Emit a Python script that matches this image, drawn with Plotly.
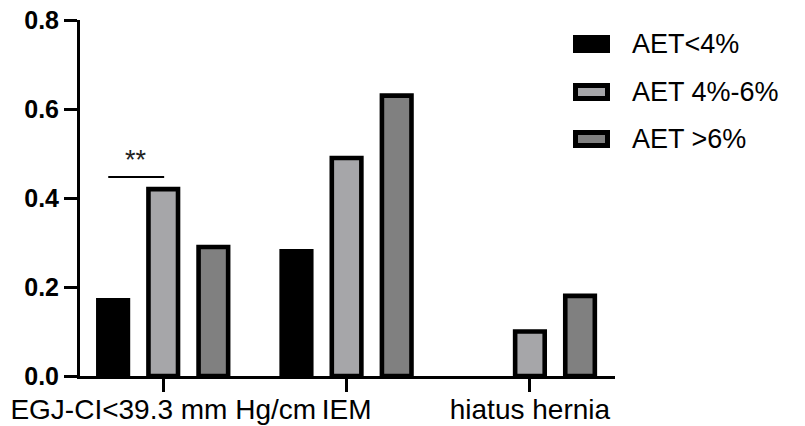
import plotly.graph_objects as go

# ---- data ----
categories = ["EGJ-CI<39.3 mm Hg/cm", "IEM", "hiatus hernia"]
series_names = ["AET<4%", "AET 4%-6%", "AET >6%"]
aet_lt4 = [0.17, 0.28, 0.0]
aet_4_6 = [0.42, 0.49, 0.10]
aet_gt6 = [0.29, 0.63, 0.18]
y_ticks = [0.0, 0.2, 0.4, 0.6, 0.8]
y_tick_labels = ["0.0", "0.2", "0.4", "0.6", "0.8"]
sig_label = "**"

series_values = [aet_lt4, aet_4_6, aet_gt6]
fill_colors = ["#000000", "#a6a6a9", "#808080"]

FONT = "Arial, Liberation Sans, sans-serif"
W, H = 805, 426
ML, MR, MT, MB = 80, W - 615, 20, 426 - 376
PW, PH = W - ML - MR, H - MT - MB

x_pos = list(range(len(categories)))

fig = go.Figure()
for name, vals, col in zip(series_names, series_values, fill_colors):
    fig.add_trace(go.Bar(
        x=x_pos, y=vals, name=name,
        marker=dict(color=col, line=dict(color="#000000",
                                         width=[4.6 if v > 0 else 0 for v in vals])),
        showlegend=False,
    ))

def px_x(px):
    return (px - ML) / PW

def px_y(py):
    return (H - MB - py) / PH

shapes = []
annotations = []
# custom legend (swatch + text)
row_centers = [44, 92, 139]
for i, (name, col) in enumerate(zip(series_names, fill_colors)):
    cy = row_centers[i]
    lw = 5
    shapes.append(dict(
        type="rect", xref="paper", yref="paper",
        x0=px_x(573 + lw / 2), x1=px_x(610 - lw / 2),
        y0=px_y(cy - 9 + lw / 2), y1=px_y(cy + 9 - lw / 2),
        fillcolor=col, line=dict(color="#000000", width=lw),
    ))
    annotations.append(dict(
        x=px_x(630), y=px_y(cy), xref="paper", yref="paper",
        text=name, showarrow=False, xanchor="left", yanchor="middle",
        font=dict(family=FONT, size=27, color="#000000"),
    ))

# significance bracket between first two bars of first group
shapes.append(dict(
    type="line", xref="x", yref="y",
    x0=-0.30, x1=0.005, y0=0.447, y1=0.447,
    line=dict(color="#000000", width=2),
))
annotations.append(dict(
    x=-0.15, y=px_y(160) * 0.8, xref="x", yref="y", text=sig_label, showarrow=False,
    xanchor="center", yanchor="middle",
    font=dict(family=FONT, size=27, color="#222222"),
))

fig.update_layout(
    width=W, height=H,
    margin=dict(l=ML, r=MR, t=MT, b=MB, pad=0),
    paper_bgcolor="white", plot_bgcolor="white",
    barmode="group", bargap=0.18, bargroupgap=0.41,
    shapes=shapes, annotations=annotations,
    font=dict(family=FONT, color="#000000"),
)
fig.update_xaxes(
    range=[-0.454, 2.464], tickmode="array", tickvals=x_pos, ticktext=categories,
    tickangle=0, showgrid=False, zeroline=False, automargin=False,
    showline=True, linecolor="#000000", linewidth=3,
    ticks="outside", ticklen=13, tickwidth=3, tickcolor="#000000",
    ticklabelstandoff=-7,
    tickfont=dict(family=FONT, size=28, color="#000000"),
)
fig.update_yaxes(
    range=[0, 0.8], tickmode="array", tickvals=y_ticks, ticktext=y_tick_labels,
    showgrid=False, zeroline=False, automargin=False,
    showline=True, linecolor="#000000", linewidth=3,
    ticks="outside", ticklen=13, tickwidth=3, tickcolor="#000000",
    tickfont=dict(family=FONT, size=25, color="#000000", weight="bold"),
)

fig.write_html("out.html", config={"displayModeBar": False},
               post_script="document.body.style.margin='0';document.body.style.overflow='hidden';")
